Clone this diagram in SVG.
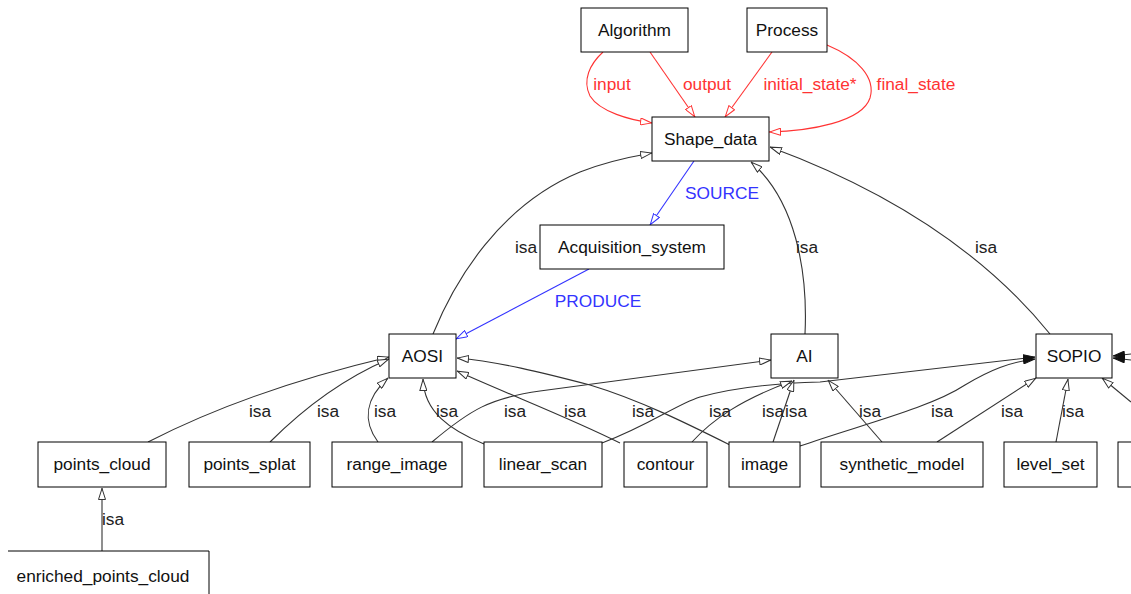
<svg xmlns="http://www.w3.org/2000/svg" width="1131" height="594" viewBox="0 0 1131 594">
<style>
.box{fill:#fff;stroke:#000;stroke-width:1}
.t{font-family:"Liberation Sans",Arial,sans-serif;font-size:17.3px;fill:#111;text-anchor:middle}
.l{font-family:"Liberation Sans",Arial,sans-serif;font-size:17.3px;fill:#222;text-anchor:middle}
.lr{fill:#ff3333}
.lb{fill:#3333ff}
.e{fill:none;stroke:#333;stroke-width:1.1}
.er{fill:none;stroke:#ff3333;stroke-width:1.1}
.eb{fill:none;stroke:#3333ff;stroke-width:1.1}
</style>
<defs>
<marker id="og" viewBox="0 0 12 8" refX="12" refY="4" markerWidth="12" markerHeight="8" orient="auto" markerUnits="userSpaceOnUse"><path d="M0.5,0.5 L11.5,4 L0.5,7.5 z" fill="#fff" stroke="#333"/></marker>
<marker id="or" viewBox="0 0 12 8" refX="12" refY="4" markerWidth="12" markerHeight="8" orient="auto" markerUnits="userSpaceOnUse"><path d="M0.5,0.5 L11.5,4 L0.5,7.5 z" fill="#fff" stroke="#ff3333"/></marker>
<marker id="ob" viewBox="0 0 12 8" refX="12" refY="4" markerWidth="12" markerHeight="8" orient="auto" markerUnits="userSpaceOnUse"><path d="M0.5,0.5 L11.5,4 L0.5,7.5 z" fill="#fff" stroke="#3333ff"/></marker>
<marker id="fk" viewBox="0 0 12 8" refX="12" refY="4" markerWidth="12" markerHeight="8" orient="auto" markerUnits="userSpaceOnUse"><path d="M0.5,0.5 L11.5,4 L0.5,7.5 z" fill="#111" stroke="#111"/></marker>
</defs>

<g id="connectors">
<path class="er" d="M603,52 C590,64 582,80 590,96 C600,112 630,120 652,123" marker-end="url(#or)"/>
<path class="er" d="M650,52 L695,117" marker-end="url(#or)"/>
<path class="er" d="M772,52 L725,117" marker-end="url(#or)"/>
<path class="er" d="M827,45 C858,58 876,78 870,98 C862,122 810,131 769,132" marker-end="url(#or)"/>
<path class="eb" d="M694,161 L650,225" marker-end="url(#ob)"/>
<path class="eb" d="M589,269 L456,339" marker-end="url(#ob)"/>
<path class="e" d="M433,334 C455,280 500,205 580,172 C610,160 635,156 652,153" marker-end="url(#og)"/>
<path class="e" d="M805,334 C808,270 795,200 751,162" marker-end="url(#og)"/>
<path class="e" d="M1050,334 C990,260 900,195 770,147" marker-end="url(#og)"/>
<path class="e" d="M148,442 C220,405 300,378 389,357" marker-end="url(#og)"/>
<path class="e" d="M270,442 C300,412 340,380 389,359" marker-end="url(#og)"/>
<path class="e" d="M378,442 C362,420 366,398 388,378" marker-end="url(#og)"/>
<path class="e" d="M484,444 C450,430 424,412 423,379" marker-end="url(#og)"/>
<path class="e" d="M620,443 C570,418 510,395 457,371" marker-end="url(#og)"/>
<path class="e" d="M730,445 C690,425 640,400 590,385 C540,372 500,362 457,358" marker-end="url(#og)"/>
<path class="e" d="M432,442 C470,410 490,398 540,391 L771,360" marker-end="url(#og)"/>
<path class="e" d="M602,443 C650,425 675,405 700,397 C740,386 780,383 820,382 L1035,357" stroke-width="2" marker-end="url(#fk)"/>
<path class="e" d="M692,442 C712,420 740,400 792,381" marker-end="url(#og)"/>
<path class="e" d="M773,442 L794,380" marker-end="url(#og)"/>
<path class="e" d="M882,442 L828,380" marker-end="url(#og)"/>
<path class="e" d="M800,446 C860,425 930,408 965,385 C990,370 1010,362 1035,359" marker-end="url(#fk)"/>
<path class="e" d="M937,442 L1036,378" marker-end="url(#og)"/>
<path class="e" d="M1056,442 L1068,379" marker-end="url(#og)"/>
<path class="e" d="M1131,402 L1102,378" marker-end="url(#og)"/>
<path class="e" d="M1131,354 L1113,356" marker-end="url(#fk)"/>
<path class="e" d="M1131,360 L1113,358" marker-end="url(#fk)"/>
<path class="e" d="M102,551 L102,488" marker-end="url(#og)"/>
<text class="l lr" x="612" y="90">input</text>
<text class="l lr" x="707" y="90">output</text>
<text class="l lr" x="810" y="90">initial_state*</text>
<text class="l lr" x="916" y="90">final_state</text>
<text class="l lb" x="722" y="199">SOURCE</text>
<text class="l lb" x="598" y="307">PRODUCE</text>
<text class="l" x="526" y="253">isa</text>
<text class="l" x="807" y="253">isa</text>
<text class="l" x="986" y="253">isa</text>
<text class="l" x="260" y="417">isa</text>
<text class="l" x="328" y="417">isa</text>
<text class="l" x="385" y="417">isa</text>
<text class="l" x="447" y="417">isa</text>
<text class="l" x="515" y="417">isa</text>
<text class="l" x="575" y="417">isa</text>
<text class="l" x="643" y="417">isa</text>
<text class="l" x="720" y="417">isa</text>
<text class="l" x="773" y="417">isa</text>
<text class="l" x="796" y="417">isa</text>
<text class="l" x="870" y="417">isa</text>
<text class="l" x="942" y="417">isa</text>
<text class="l" x="1012" y="417">isa</text>
<text class="l" x="1073" y="417">isa</text>
<text class="l" x="113" y="525">isa</text>
</g>

<g id="n-algorithm"><rect class="box" x="581" y="8" width="107" height="44"/><text class="t" x="634.5" y="36">Algorithm</text></g>
<g id="n-process"><rect class="box" x="747" y="8" width="80" height="44"/><text class="t" x="787" y="36">Process</text></g>
<g id="n-shape-data"><rect class="box" x="652" y="117" width="117" height="44"/><text class="t" x="710.5" y="145">Shape_data</text></g>
<g id="n-acquisition"><rect class="box" x="540" y="225" width="184" height="44"/><text class="t" x="632" y="253">Acquisition_system</text></g>
<g id="n-aosi"><rect class="box" x="389" y="334" width="67" height="44"/><text class="t" x="422.5" y="362">AOSI</text></g>
<g id="n-ai"><rect class="box" x="771" y="334" width="67" height="44"/><text class="t" x="804.5" y="362">AI</text></g>
<g id="n-sopio"><rect class="box" x="1036" y="334" width="76" height="44"/><text class="t" x="1074" y="362">SOPIO</text></g>
<g id="n-points-cloud"><rect class="box" x="38" y="442" width="128" height="45"/><text class="t" x="102" y="470">points_cloud</text></g>
<g id="n-points-splat"><rect class="box" x="189" y="442" width="121" height="45"/><text class="t" x="249.5" y="470">points_splat</text></g>
<g id="n-range-image"><rect class="box" x="332" y="442" width="130" height="45"/><text class="t" x="397" y="470">range_image</text></g>
<g id="n-linear-scan"><rect class="box" x="484" y="442" width="118" height="45"/><text class="t" x="543" y="470">linear_scan</text></g>
<g id="n-contour"><rect class="box" x="624" y="442" width="83" height="45"/><text class="t" x="665.5" y="470">contour</text></g>
<g id="n-image"><rect class="box" x="729" y="442" width="71" height="45"/><text class="t" x="764.5" y="470">image</text></g>
<g id="n-synthetic-model"><rect class="box" x="821" y="442" width="162" height="45"/><text class="t" x="902" y="470">synthetic_model</text></g>
<g id="n-level-set"><rect class="box" x="1004" y="442" width="93" height="45"/><text class="t" x="1050.5" y="470">level_set</text></g>
<g id="n-offscreen"><rect class="box" x="1118" y="442" width="40" height="45"/></g>
<g id="n-enriched"><path d="M8,551 H209 V600" fill="#fff" stroke="#000"/><text class="t" x="103" y="582">enriched_points_cloud</text></g>
</svg>
